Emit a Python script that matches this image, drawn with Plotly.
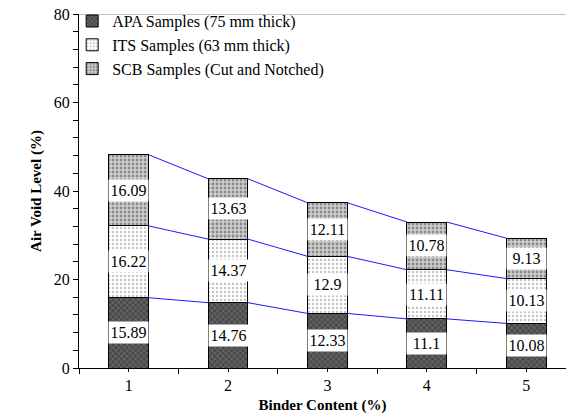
import plotly.graph_objects as go

categories = [1, 2, 3, 4, 5]
apa = [15.89, 14.76, 12.33, 11.1, 10.08]
its = [16.22, 14.37, 12.9, 11.11, 10.13]
scb = [16.09, 13.63, 12.11, 10.78, 9.13]
series_names = ["APA Samples (75 mm thick)", "ITS Samples (63 mm thick)", "SCB Samples (Cut and Notched)"]

FONT = "Liberation Serif"
BAR_W = 0.4

patterns = [
    dict(shape="x", bgcolor="#4a4a4a", fgcolor="#bdbdbd", size=4, solidity=0.25),
    dict(shape=".", bgcolor="#ffffff", fgcolor="#8a8a8a", size=4, solidity=0.3),
    dict(shape=".", bgcolor="#cfcfcf", fgcolor="#444444", size=4, solidity=0.4),
]

fig = go.Figure()
data = [apa, its, scb]
for name, vals, pat in zip(series_names, data, patterns):
    fig.add_trace(go.Bar(
        x=categories, y=vals, name=name, width=BAR_W,
        marker=dict(color=pat["bgcolor"], pattern=pat, line=dict(color="black", width=1)),
    ))

cum = [0.0] * len(categories)
annotations = []
for vals in data:
    new_cum = [c + v for c, v in zip(cum, vals)]
    for i, (c0, c1, v) in enumerate(zip(cum, new_cum, vals)):
        annotations.append(dict(
            x=categories[i], y=(c0 + c1) / 2, xref="x", yref="y", text=f"{v:g}",
            showarrow=False, bgcolor="white", width=37, height=19,
            font=dict(family=FONT, size=16, color="black"),
        ))
    lx, ly = [], []
    for i in range(len(categories) - 1):
        lx += [categories[i] + BAR_W / 2, categories[i + 1] - BAR_W / 2, None]
        ly += [new_cum[i], new_cum[i + 1], None]
    fig.add_trace(go.Scatter(x=lx, y=ly, mode="lines", line=dict(color="#1a1aff", width=1),
                             showlegend=False, hoverinfo="skip"))
    cum = new_cum

fig.update_layout(
    width=566, height=418,
    margin=dict(l=79, r=0, t=14, b=50),
    barmode="stack",
    plot_bgcolor="white", paper_bgcolor="white",
    font=dict(family=FONT, size=16, color="black"),
    showlegend=True,
    legend=dict(x=-0.014, y=1.028, xanchor="left", yanchor="top", traceorder="normal",
                bgcolor="rgba(0,0,0,0)", font=dict(family=FONT, size=16),
                itemwidth=30, tracegroupgap=0),
    annotations=annotations,
    shapes=[dict(type="line", xref="paper", yref="y", x0=0, x1=1, y0=80, y1=80,
                 line=dict(color="#808080", width=1))],
)
fig.update_xaxes(
    range=[0.5, 5.4], tickvals=categories, ticktext=[str(c) for c in categories],
    ticks="outside", ticklen=3, tickcolor="black", showline=True, linecolor="black", linewidth=1,
    showgrid=False, zeroline=False,
    minor=dict(tick0=0.5, dtick=1, ticks="outside", ticklen=5, tickcolor="black", showgrid=False),
    title=dict(text="<b>Binder Content (%)</b>", font=dict(family=FONT, size=15), standoff=6),
    tickfont=dict(family=FONT, size=16),
)
fig.update_yaxes(
    range=[0, 80], dtick=20, ticks="outside", ticklen=5, tickcolor="black",
    showline=True, linecolor="black", linewidth=1, showgrid=False, zeroline=False,
    minor=dict(dtick=4, ticks="outside", ticklen=5, tickcolor="black", showgrid=False),
    title=dict(text="<b>Air Void Level (%)</b>", font=dict(family=FONT, size=15), standoff=8),
    tickfont=dict(family=FONT, size=16),
)

fig.write_html("out.html")
